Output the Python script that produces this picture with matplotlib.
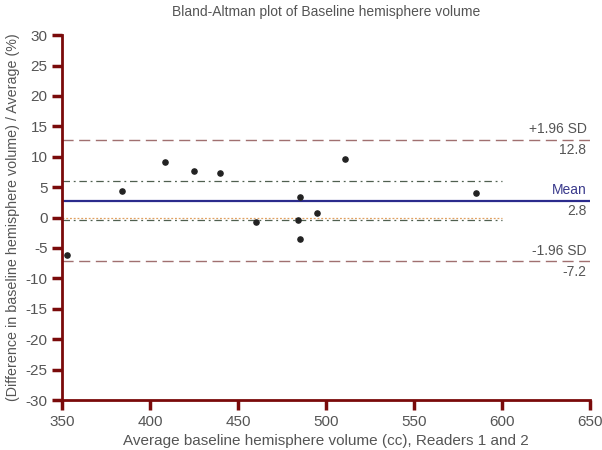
import matplotlib.pyplot as plt

plt.rcParams['font.family'] = ['Liberation Sans', 'DejaVu Sans']
plt.rcParams['axes.unicode_minus'] = False

# data
avg_volume = [353, 384, 408.5, 425, 439.5, 460, 484, 485.5, 485, 495, 511, 585]
pct_diff = [-6.1, 4.4, 9.1, 7.7, 7.3, -0.8, -0.4, 3.4, -3.6, 0.8, 9.6, 4.1]
mean_diff = 2.8
upper_loa = 12.8
lower_loa = -7.2
ci_mean = [6.0, -0.4]

red = '#7a0a0a'
gray = '#555555'

fig = plt.figure(figsize=(6.02, 4.5), dpi=100)
ax = fig.add_axes([0.103, 0.111, 0.877, 0.811])

# limits of agreement and mean
ax.axhline(upper_loa, color='#a07070', lw=1, dashes=(8, 4))
ax.axhline(lower_loa, color='#a07070', lw=1, dashes=(8, 4))
ax.axhline(mean_diff, color='#2b2b8c', lw=1.6)
# ci of the mean and line of equality
for v in ci_mean:
    ax.plot([350, 600], [v, v], color='#506050', lw=0.9, dashes=(6, 3, 1.5, 3))
ax.plot([350, 600], [0, 0], color='#e0a060', lw=0.9, dashes=(1.5, 1.5))

ax.scatter(avg_volume, pct_diff, s=14, color='#222222', zorder=5)

# labels at the right
tx = 648
ax.text(tx, upper_loa + 0.6, '+1.96 SD', ha='right', va='bottom', color=gray, fontsize=10)
ax.text(tx, upper_loa - 0.6, '%.1f' % upper_loa, ha='right', va='top', color=gray, fontsize=10)
ax.text(tx, mean_diff + 0.6, 'Mean', ha='right', va='bottom', color='#3a3a8c', fontsize=10)
ax.text(tx, mean_diff - 0.6, '%.1f' % mean_diff, ha='right', va='top', color=gray, fontsize=10)
ax.text(tx, lower_loa + 0.6, '-1.96 SD', ha='right', va='bottom', color=gray, fontsize=10)
ax.text(tx, lower_loa - 0.6, '%.1f' % lower_loa, ha='right', va='top', color=gray, fontsize=10)

ax.set_xlim(350, 650)
ax.set_ylim(-30, 30)
ax.set_xticks(range(350, 651, 50))
ax.set_yticks(range(-30, 31, 5))

for s in ['top', 'right']:
    ax.spines[s].set_visible(False)
for s in ['left', 'bottom']:
    ax.spines[s].set_color(red)
    ax.spines[s].set_linewidth(2)
ax.tick_params(colors=red, width=2.5, length=7, labelcolor=gray, labelsize=11)

ax.set_title('Bland-Altman plot of Baseline hemisphere volume', color=gray, fontsize=10, pad=14)
ax.set_xlabel('Average baseline hemisphere volume (cc), Readers 1 and 2', color=gray, fontsize=11)
ax.set_ylabel('(Difference in baseline hemisphere volume) / Average (%)', color=gray, fontsize=10.3)

fig.savefig('out.png', dpi=100)
